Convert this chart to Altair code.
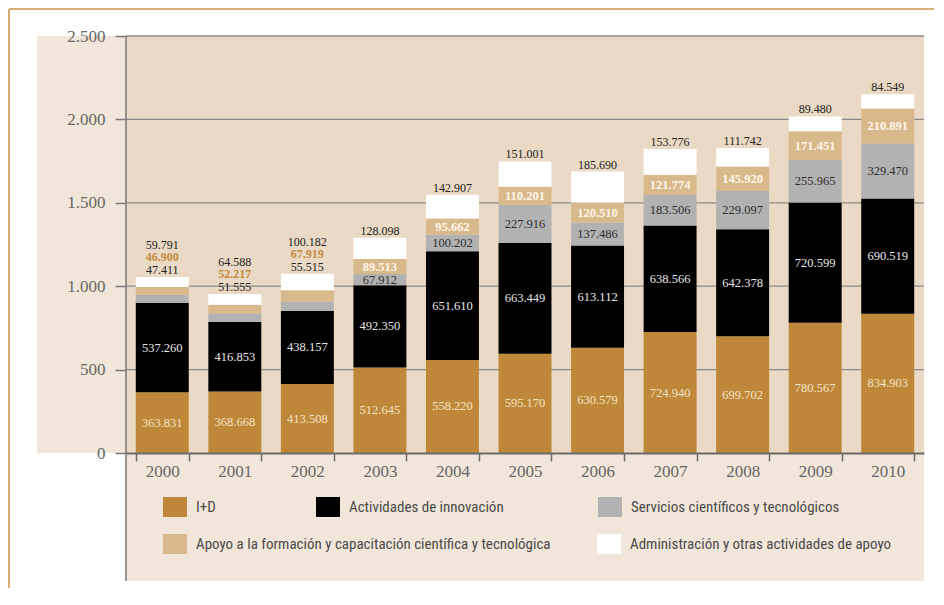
import altair as alt
import pandas as pd

# ---------------- data ----------------
anios = [2000, 2001, 2002, 2003, 2004, 2005, 2006, 2007, 2008, 2009, 2010]
series = [
    "I+D",
    "Actividades de innovación",
    "Servicios científicos y tecnológicos",
    "Apoyo a la formación y capacitación científica y tecnológica",
    "Administración y otras actividades de apoyo",
]
colores = ["#BF8739", "#000000", "#B2B2B2", "#D8B98B", "#FFFFFF"]

id_vals = [363.831, 368.668, 413.508, 512.645, 558.220, 595.170, 630.579, 724.940, 699.702, 780.567, 834.903]
innov_vals = [537.260, 416.853, 438.157, 492.350, 651.610, 663.449, 613.112, 638.566, 642.378, 720.599, 690.519]
serv_vals = [47.411, 51.555, 55.515, 67.912, 100.202, 227.916, 137.486, 183.506, 229.097, 255.965, 329.470]
apoyo_vals = [46.900, 52.217, 67.919, 89.513, 95.662, 110.201, 120.510, 121.774, 145.920, 171.451, 210.891]
admin_vals = [59.791, 64.588, 100.182, 128.098, 142.907, 151.001, 185.690, 153.776, 111.742, 89.480, 84.549]

y_ticks = [0, 500, 1000, 1500, 2000, 2500]

# legend layout (pixels, relative to plot area)
leg_x = [37, 190, 472, 37, 471]
leg_y = [461, 461, 461, 498, 498]

# ---------------- tables ----------------
valores = [id_vals, innov_vals, serv_vals, apoyo_vals, admin_vals]
rows = []
for k, (s, vals) in enumerate(zip(series, valores)):
    for a, v in zip(anios, vals):
        rows.append({"anio": a, "serie": s, "valor": v, "orden": k})
df = pd.DataFrame(rows)

leg_df = pd.DataFrame({
    "serie": series,
    "lx": leg_x,
    "lx2": [x + 24 for x in leg_x],
    "ly": leg_y,
    "ly2": [y + 20 for y in leg_y],
    "tx": [x + 33 for x in leg_x],
    "ty": [y + 10 for y in leg_y],
})
grid_df = pd.DataFrame({"v": y_ticks[1:]})

W, H = 798, 417
yscale = alt.Scale(domain=[0, 2500], nice=False, zero=True)
cscale = alt.Scale(domain=series, range=colores)
xscale = alt.Scale(paddingInner=0.27, paddingOuter=0.135)

SERIF = "Liberation Serif, Times New Roman, serif"
NARROW = "Liberation Sans Narrow, Arial Narrow, Roboto Condensed, Liberation Sans, sans-serif"

deco = alt.Chart(pd.DataFrame({"k": [0]}))

left_panel = deco.mark_rect(color="#F2E6DA").encode(
    x=alt.value(-89), x2=alt.value(0), y=alt.value(0), y2=alt.value(H))
bottom_panel = deco.mark_rect(color="#F2E6DA").encode(
    x=alt.value(0), x2=alt.value(W), y=alt.value(H), y2=alt.value(545))
border_top = deco.mark_rule(color="#D7AD74", strokeWidth=2).encode(
    x=alt.value(-117), x2=alt.value(W + 10), y=alt.value(-27))
border_left = deco.mark_rule(color="#D7AD74", strokeWidth=2).encode(
    x=alt.value(-117), y=alt.value(-27), y2=alt.value(552))
yaxis_line = deco.mark_rule(color="#777777", strokeWidth=1.5).encode(
    x=alt.value(0), y=alt.value(0), y2=alt.value(545))

grid = alt.Chart(grid_df).mark_rule(color="#8A8A8A", strokeWidth=1.3).encode(
    x=alt.value(0), x2=alt.value(W),
    y=alt.Y("v:Q", scale=yscale, title=None))

bars = alt.Chart(df).mark_bar().encode(
    x=alt.X("anio:O", scale=xscale, sort=anios, title=None,
            axis=alt.Axis(tickBand="extent", tickSize=8, tickColor="#6B6B6B", tickWidth=1.5,
                          domainColor="#6B6B6B", domainWidth=2, labelFont=SERIF,
                          labelFontSize=17, labelColor="#666666", labelPadding=2,
                          labelAngle=0, zindex=1)),
    y=alt.Y("valor:Q", stack="zero", scale=yscale, title=None,
            axis=alt.Axis(values=y_ticks, grid=False, domain=False, tickSize=11,
                          tickColor="#7A7A7A", tickWidth=1.5, labelFont=SERIF,
                          labelFontSize=17, labelColor="#666666", labelPadding=10,
                          labelExpr="replace(format(datum.value, ',d'), ',', '.')",
                          zindex=1)),
    color=alt.Color("serie:N", scale=cscale, legend=None),
    order=alt.Order("orden:Q", sort="ascending"),
)

stacked = (alt.Chart(df)
           .transform_stack(stack="valor", groupby=["anio"],
                            sort=[alt.SortField("orden", order="ascending")], as_=["v0", "v1"])
           .transform_joinaggregate(total="sum(valor)", groupby=["anio"])
           .transform_calculate(mid="(datum.v0 + datum.v1) / 2",
                                lbl="format(datum.valor, '.3f')"))


def seg_labels(cond, color, weight="normal"):
    return stacked.transform_filter(cond).mark_text(
        font=SERIF, fontSize=12.5, color=color, fontWeight=weight, baseline="middle"
    ).encode(
        x=alt.X("anio:O", scale=xscale, sort=anios, title=None),
        y=alt.Y("mid:Q", scale=yscale, title=None),
        text="lbl:N")


def top_labels(cond, dy, color, weight="normal"):
    return stacked.transform_filter(cond).mark_text(
        font=SERIF, fontSize=12, color=color, fontWeight=weight, baseline="middle", dy=dy
    ).encode(
        x=alt.X("anio:O", scale=xscale, sort=anios, title=None),
        y=alt.Y("total:Q", scale=yscale, title=None),
        text="lbl:N")


lab_id = seg_labels("datum.orden == 0", "#F5E3C8")
lab_inn = seg_labels("datum.orden == 1", "#E8E8E8")
lab_serv = seg_labels("datum.orden == 2 && datum.anio >= 2003", "#2E2E2E")
lab_apo = seg_labels("datum.orden == 3 && datum.anio >= 2003", "#FFF6E8", "bold")
lab_adm = top_labels("datum.orden == 4 && datum.anio >= 2003", -7, "#222222")
lab_adm_e = top_labels("datum.orden == 4 && datum.anio < 2003", -32, "#222222")
lab_apo_e = top_labels("datum.orden == 3 && datum.anio < 2003", -19.5, "#C38B3E", "bold")
lab_serv_e = top_labels("datum.orden == 2 && datum.anio < 2003", -7, "#222222")

leg_sw = alt.Chart(leg_df).mark_rect().encode(
    x=alt.X("lx:Q", scale=None), x2="lx2:Q",
    y=alt.Y("ly:Q", scale=None), y2="ly2:Q",
    color=alt.Color("serie:N", scale=cscale, legend=None))
leg_tx = alt.Chart(leg_df).mark_text(
    font=NARROW, fontSize=15, color="#4A4A4A", align="left", baseline="middle"
).encode(
    x=alt.X("tx:Q", scale=None),
    y=alt.Y("ty:Q", scale=None),
    text="serie:N")

chart = alt.layer(
    left_panel, bottom_panel, border_top, border_left, grid, bars, yaxis_line,
    lab_id, lab_inn, lab_serv, lab_apo, lab_adm, lab_adm_e, lab_apo_e, lab_serv_e,
    leg_sw, leg_tx,
).properties(
    width=W, height=H,
    padding={"left": 118, "top": 28, "right": 10, "bottom": 135},
    autosize=alt.AutoSizeParams(type="none"),
    background="#FFFFFF",
).configure_view(fill="#EAD9C4", strokeWidth=0)

chart.save("out.html", embed_options={"renderer": "svg", "actions": False})
